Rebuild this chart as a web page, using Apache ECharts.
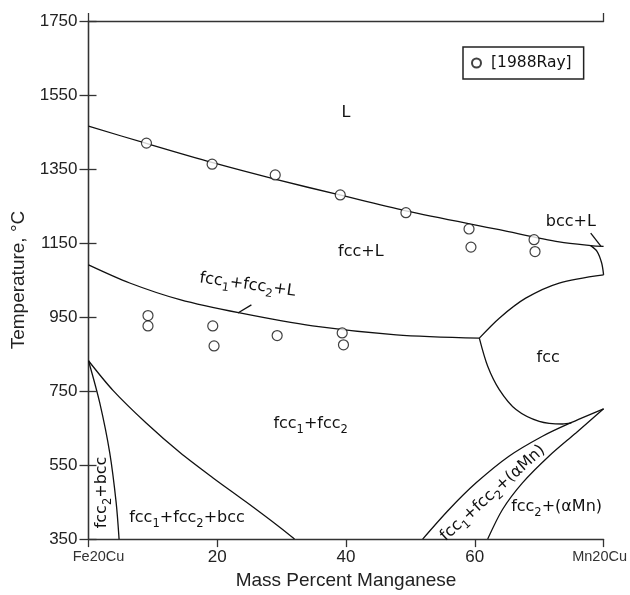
<!DOCTYPE html>
<html><head><meta charset="utf-8">
<script src="https://cdn.jsdelivr.net/npm/echarts@6/dist/echarts.min.js"></script>
<style>html,body{margin:0;padding:0;background:#fff}#c{width:630px;height:595px}</style>
</head><body><div id="c"></div>
<script>
// ---- data (mass % Mn, temperature °C) ----
const xTickValues = [0, 20, 40, 60, 80];
const xTickLabels = ['Fe20Cu', '20', '40', '60', 'Mn20Cu'];
const yTickValues = [350, 550, 750, 950, 1150, 1350, 1550, 1750];

const liquidus = [[0,1466],[9,1419],[19.3,1367],[29.1,1322],[39,1280],[49.3,1237],[63.8,1186],[73.1,1153],[78,1143],[80,1141]];
const bccSolidus = [[78,1143],[79,1127],[79.7,1096],[80,1064]];
const threePhaseL = [[0,1091],[6.4,1042],[14.2,997],[23.5,961],[34.8,926],[47.8,902],[60.7,893]];
const fccUpper = [[60.7,893],[63.8,947],[67.9,1001],[73.1,1042],[80,1064]];
const fccLower = [[60.7,893],[62.0,817],[63.8,754],[66.4,700],[70,668],[73.6,661],[75,664]];
const aMnUpper = [[51.9,350],[56,430],[60.2,502],[65.3,574],[70.5,628],[74.6,662],[80,702]];
const aMnLower = [[62,350],[64.3,430],[67.4,502],[71.5,574],[75.7,637],[80,702]];
const bccUpper = [[0,832],[3.8,752],[9,663],[14.2,584],[19.3,516],[24.5,450],[29.7,382],[32,350]];
const bccInner = [[0,832],[1.75,718],[3.3,583],[4.3,448],[4.75,350]];
const leaderL = [[23.2,961],[25.3,983]];
const leaderBccL = [[78.0,1177],[79.6,1141]];

const rayMn = [9.0,19.2,29.0,39.1,49.3,59.1,59.4,69.2,69.35,9.24,9.24,19.3,19.5,29.3,39.4,39.6];
const rayT  = [1420,1363,1334,1280,1232,1188,1139,1159,1127,954,926,926,872,900,907,875];

// ---- annotation text ----
const annotations = [
  {text:'{m|L}', x:40.0, y:1502, rot:0},
  {text:'{m|fcc+L}', x:42.3, y:1127, rot:0},
  {text:'{m|fcc}{s|1}{m|+fcc}{s|2}{m|+L}', x:24.7, y:1037, rot:-8},
  {text:'{m|fcc}', x:71.4, y:841, rot:0},
  {text:'{m|fcc}{s|1}{m|+fcc}{s|2}', x:34.5, y:662, rot:0},
  {text:'{m|fcc}{s|1}{m|+fcc}{s|2}{m|+bcc}', x:15.3, y:408, rot:0},
  {text:'{m|fcc}{s|2}{m|+bcc}', x:2.1, y:476, rot:90},
  {text:'{m|fcc}{s|1}{m|+fcc}{s|2}{m|+(αMn)}', x:62.8, y:474, rot:42},
  {text:'{m|fcc}{s|2}{m|+(αMn)}', x:72.7, y:437, rot:0},
  {text:'{m|bcc+L}', x:74.9, y:1207, rot:0}
];

const LINE = '#111';
const AX = '#333';
function curve(data, smooth) {
  return {type:'line', data:data, symbol:'none', smooth: smooth === undefined ? 0.3 : smooth,
    lineStyle:{color:LINE, width:1.3}, silent:true, animation:false, z:2, legendHoverLink:false,
    xAxisIndex:0, yAxisIndex:0};
}

const chart = echarts.init(document.getElementById('c'), null, {renderer:'canvas'});
const tickFont = 'Liberation Sans, Arial, sans-serif';
chart.setOption({
  backgroundColor:'#fff',
  animation:false,
  grid:{left:88.5, right:25.3, top:21, bottom:55.7, containLabel:false},
  legend:{
    data:['[1988Ray]'], left:463, top:47, orient:'horizontal',
    borderColor:'#222', borderWidth:1.5, padding:[8,12,8,8],
    itemWidth:9, itemHeight:9, itemGap:0,
    textStyle:{fontFamily:'DejaVu Sans', fontSize:15.5, color:'#111', padding:[0,0,0,5]},
    selectedMode:false
  },
  xAxis:[{
    type:'value', min:0, max:80, interval:20, position:'bottom',
    axisLine:{show:true, lineStyle:{color:AX, width:1.3}},
    axisTick:{show:true, length:8, lineStyle:{color:AX, width:1.3}},
    splitLine:{show:false},
    axisLabel:{margin:10, fontFamily:tickFont, fontSize:17, color:'#222',
      formatter:function(v){
        const i = xTickValues.indexOf(v);
        const t = i >= 0 ? xTickLabels[i] : String(v);
        if (v === 0) return '{a|' + t + '}';
        if (v === 80) return '{b|' + t + '}';
        return t;
      },
      rich:{
        a:{fontFamily:tickFont, fontSize:14.5, color:'#333', padding:[0,0,0,20]},
        b:{fontFamily:tickFont, fontSize:14.5, color:'#333', padding:[0,8,0,0]}
      }
    },
    name:'Mass Percent Manganese', nameLocation:'middle', nameGap:31,
    nameTextStyle:{fontFamily:tickFont, fontSize:19, color:'#222'}
  },{
    type:'value', min:0, max:80, interval:80, position:'top',
    axisLine:{show:true, lineStyle:{color:AX, width:1.3}},
    axisTick:{show:true, length:8, lineStyle:{color:AX, width:1.3}},
    axisLabel:{show:false}, splitLine:{show:false}
  }],
  yAxis:[{
    type:'value', min:350, max:1750, interval:200, position:'left',
    axisLine:{show:true, lineStyle:{color:AX, width:1.3}},
    axisTick:{show:true, length:9, lineStyle:{color:AX, width:1.3}},
    splitLine:{show:false},
    axisLabel:{margin:11, fontFamily:tickFont, fontSize:17, color:'#222',
      formatter:function(v){ return yTickValues.indexOf(v) >= 0 ? String(v) : ''; }},
    name:'Temperature, °C', nameLocation:'middle', nameGap:60, nameRotate:90,
    nameTextStyle:{fontFamily:tickFont, fontSize:19, color:'#222'}
  },{
    type:'value', min:350, max:1750, interval:200, position:'right',
    axisLine:{show:true, lineStyle:{color:AX, width:1.3}},
    axisTick:{show:true, length:8, lineStyle:{color:AX, width:1.3}},
    axisLabel:{show:false}, splitLine:{show:false}
  }],
  series:[
    curve(liquidus), curve(bccSolidus), curve(threePhaseL), curve(fccUpper), curve(fccLower),
    curve(aMnUpper), curve(aMnLower), curve(bccUpper), curve(bccInner),
    curve(leaderL, false), curve(leaderBccL, false),
    {type:'scatter', name:'[1988Ray]', xAxisIndex:0, yAxisIndex:0,
     data: rayMn.map(function(m,i){ return [m, rayT[i]]; }),
     symbol:'circle', symbolSize:10,
     itemStyle:{color:'#fff', borderColor:'#111', borderWidth:1.2}, z:5, silent:true}
  ]
});

const g = annotations.map(function(a){
  const p = chart.convertToPixel({xAxisIndex:0, yAxisIndex:0}, [a.x, a.y]);
  return {type:'text', x:p[0], y:p[1], rotation:a.rot*Math.PI/180, z:10, silent:true,
    style:{text:a.text, align:'center', verticalAlign:'middle', fill:'#111',
      rich:{
        m:{fontFamily:'DejaVu Sans', fontSize:16, lineHeight:24, verticalAlign:'middle', fill:'#111'},
        s:{fontFamily:'DejaVu Sans', fontSize:11.5, lineHeight:24, verticalAlign:'bottom', fill:'#111'}
      }}};
});
chart.setOption({graphic:g});
</script></body></html>
